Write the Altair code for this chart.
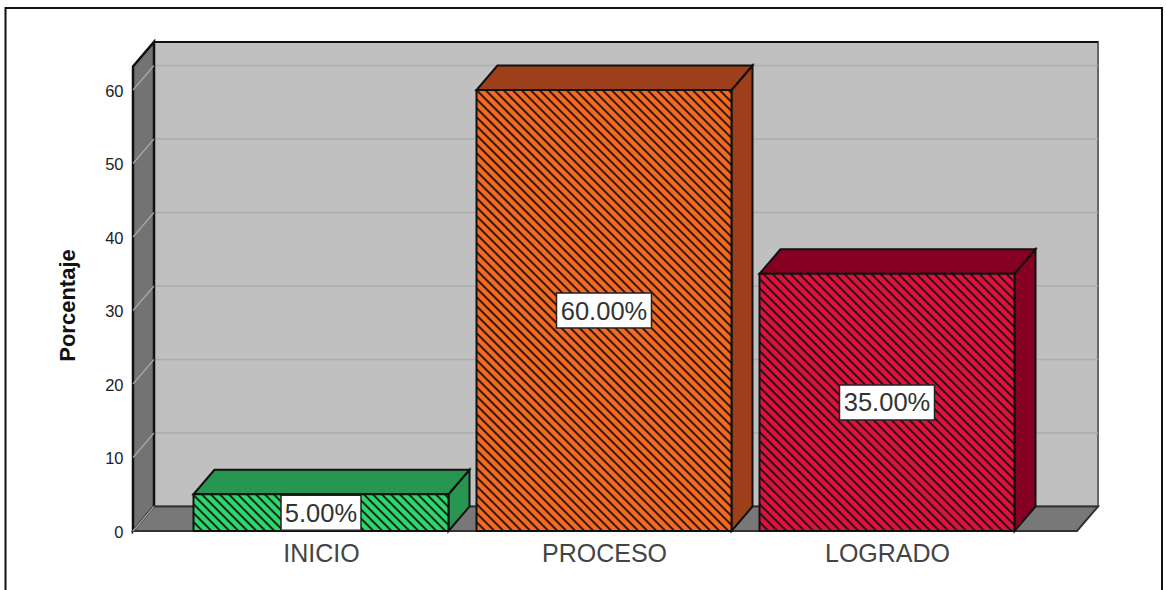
import altair as alt
import pandas as pd

# Values drawn by the chart
categories = ["INICIO", "PROCESO", "LOGRADO"]
percentages = [5.0, 60.0, 35.0]
front_colors = ["#2bd86d", "#f56a20", "#e0103f"]
depth_colors = ["#289650", "#9c3f1a", "#860021"]
y_ticks = [0, 10, 20, 30, 40, 50, 60]

# Drawing geometry, all expressed in scale units
PLOT_W, PLOT_H = 965, 489
PX_X = 1 / 283          # one category step spans 283 pixels
PX_Y = 60 / 441         # sixty percent spans 441 pixels
DX = 21 * PX_X          # oblique depth of the 3D projection
DY = 24.5 * PX_Y
BAR_HALF = 127.5 * PX_X
FLOOR_L = -188 * PX_X
FLOOR_R = 756 * PX_X
TOP = 63.2
x_scale = alt.Scale(domain=[FLOOR_L, FLOOR_L + PLOT_W * PX_X], nice=False, zero=False)
y_scale = alt.Scale(domain=[0, PLOT_H * PX_Y], nice=False, zero=False)

# Both axes are declared once and shared by every layer
label_expr = "[" + ",".join(f"'{c}'" for c in categories) + "][datum.value]"
x_axis = alt.Axis(
    values=[0, 1, 2], labelExpr=label_expr, title=None, domain=False, ticks=False,
    grid=False, labelFontSize=25, labelColor="#444444", labelFont="Liberation Sans",
    labelPadding=10, labelAngle=0,
)
y_axis = alt.Axis(
    values=y_ticks, title="Porcentaje", domain=False, ticks=False, grid=False,
    labelFontSize=16.5, labelColor="#222222", labelFont="Liberation Sans", labelPadding=10,
    labelOffset=1, titleFontSize=22, titleFontWeight="bold", titleColor="#111111",
    titleFont="Liberation Sans", titleX=-54, titleY=263,
)
X = alt.X("x:Q", scale=x_scale, axis=x_axis)
Y = alt.Y("y:Q", scale=y_scale, axis=y_axis)


def vertical_edges(rows):
    """Parallelograms whose left and right edges are vertical."""
    out = []
    for face, x, low, high, fill in rows:
        out.append(dict(face=face, x=x, y=low, y2=high, fill=fill))
        out.append(dict(face=face, x=x + DX, y=low + DY, y2=high + DY, fill=fill))
    return pd.DataFrame(out)


def horizontal_edges(rows):
    """Parallelograms whose top and bottom edges are horizontal."""
    out = []
    for face, left, right, level, fill in rows:
        out.append(dict(face=face, x=left, x2=right, y=level, fill=fill))
        out.append(dict(face=face, x=left + DX, x2=right + DX, y=level + DY, fill=fill))
    return pd.DataFrame(out)


# Outer frame around the whole figure; unfilled so the axes stay visible
frame = alt.Chart(pd.DataFrame({"a": [0]})).mark_rect(
    fill="transparent", stroke="#111111", strokeWidth=2
).encode(x=alt.value(-127.5), x2=alt.value(1029), y=alt.value(-34), y2=alt.value(570))

# Back wall with a dark top edge and its grid lines
wall = alt.Chart(pd.DataFrame([dict(
    x=FLOOR_L + DX, x2=FLOOR_R + DX, y=DY, y2=TOP + DY
)])).mark_rect(fill="#c0c0c0", stroke="#666666", strokeWidth=2).encode(
    x=X, x2="x2:Q", y=Y, y2="y2:Q"
)
wall_top = alt.Chart(pd.DataFrame([dict(
    x=FLOOR_L + DX, x2=FLOOR_R + DX, y=TOP + DY
)])).mark_rule(color="#111111", strokeWidth=2).encode(x=X, x2="x2:Q", y=Y)

grid_back = alt.Chart(pd.DataFrame([
    dict(x=FLOOR_L + DX, x2=FLOOR_R + DX, y=t + DY) for t in y_ticks[1:]
])).mark_rule(color="#adadad", strokeWidth=1.5).encode(x=X, x2="x2:Q", y=Y)

side_wall = alt.Chart(vertical_edges([("side", FLOOR_L, 0, TOP, "#737373")])).mark_area(
    stroke="#111111", strokeWidth=2.5
).encode(x=X, y=Y, y2="y2:Q", fill=alt.Fill("fill:N", scale=None))

floor = alt.Chart(horizontal_edges([("floor", FLOOR_L, FLOOR_R, 0, "#787878")])).mark_area(
    orient="horizontal", stroke="#333333", strokeWidth=2
).encode(x=X, x2="x2:Q", y=Y, fill=alt.Fill("fill:N", scale=None))

grid_side = alt.Chart(pd.DataFrame([
    dict(x=FLOOR_L, x2=FLOOR_L + DX, y=t, y2=t + DY) for t in y_ticks
])).mark_rule(color="#a8a8a8", strokeWidth=1.2).encode(x=X, x2="x2:Q", y=Y, y2="y2:Q")

# Bars: depth faces, hatched front, outline
side_rows, top_rows, front_rows, hatch_rows, box_rows = [], [], [], [], []
HATCH_STEP = 9  # pixels between hatch lines along the horizontal
for i, (name, value, front, depth) in enumerate(
    zip(categories, percentages, front_colors, depth_colors)
):
    left, right = i - BAR_HALF, i + BAR_HALF
    side_rows.append((name, right, 0, value, depth))
    top_rows.append((name, left, right, value, depth))
    front_rows.append(dict(x=left, x2=right, y=0, y2=value, fill=front))

    # 45 degree hatch lines running down to the right, cut at the bar's edges
    width_px = 255
    height_px = value / PX_Y
    offset = -height_px
    while offset < width_px:
        start = max(offset, 0)
        end = min(offset + height_px, width_px)
        if end > start:
            hatch_rows.append(dict(
                x=left + start * PX_X,
                x2=left + end * PX_X,
                y=value - (start - offset) * PX_Y,
                y2=value - (end - offset) * PX_Y,
            ))
        offset += HATCH_STEP

    # Value label box centred on the bar
    text = f"{value:.2f}%"
    half_w = (len(text) * 15 + 5) / 2 * PX_X
    half_h = min(17.5 * PX_Y, value / 2)
    box_rows.append(dict(
        x=i - half_w, x2=i + half_w, y=value / 2 - half_h, y2=value / 2 + half_h,
        mid=value / 2, cx=float(i), text=text,
    ))

bar_side = alt.Chart(vertical_edges(side_rows)).mark_area(
    stroke="#111111", strokeWidth=2
).encode(x=X, y=Y, y2="y2:Q", fill=alt.Fill("fill:N", scale=None), detail="face:N")

bar_top = alt.Chart(horizontal_edges(top_rows)).mark_area(
    orient="horizontal", stroke="#111111", strokeWidth=2
).encode(x=X, x2="x2:Q", y=Y, fill=alt.Fill("fill:N", scale=None), detail="face:N")

bar_front = alt.Chart(pd.DataFrame(front_rows)).mark_rect().encode(
    x=X, x2="x2:Q", y=Y, y2="y2:Q", fill=alt.Fill("fill:N", scale=None)
)

hatch = alt.Chart(pd.DataFrame(hatch_rows)).mark_rule(
    color="#1c1410", strokeWidth=2, opacity=0.9
).encode(x=X, x2="x2:Q", y=Y, y2="y2:Q")

bar_outline = alt.Chart(pd.DataFrame(front_rows)).mark_rect(
    fill="transparent", stroke="#111111", strokeWidth=2
).encode(x=X, x2="x2:Q", y=Y, y2="y2:Q")

boxes = alt.Chart(pd.DataFrame(box_rows)).mark_rect(
    fill="white", stroke="#222222", strokeWidth=1.5
).encode(x=X, x2="x2:Q", y=Y, y2="y2:Q")

labels = alt.Chart(pd.DataFrame(box_rows)).mark_text(
    font="Liberation Sans", fontSize=25.5, color="#333333", baseline="middle", dy=1
).encode(
    x=alt.X("cx:Q", scale=x_scale, axis=x_axis),
    y=alt.Y("mid:Q", scale=y_scale, axis=y_axis),
    text="text:N",
)

chart = alt.layer(
    frame, wall, wall_top, grid_back, side_wall, floor, grid_side,
    bar_side, bar_top, bar_front, hatch, bar_outline, boxes, labels,
).resolve_scale(x="shared", y="shared").properties(
    width=PLOT_W,
    height=PLOT_H,
    padding={"left": 133, "top": 42, "right": 68, "bottom": 59},
    autosize=alt.AutoSizeParams(type="none"),
    background="white",
).configure_view(stroke=None)

chart.save("out.html", embed_options={"renderer": "svg", "actions": False})
